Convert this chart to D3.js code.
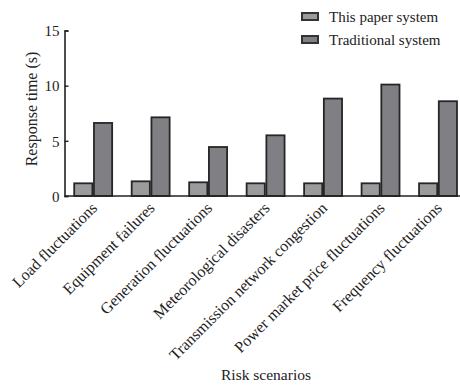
<!DOCTYPE html>
<html>
<head>
<meta charset="utf-8">
<script src="https://cdn.jsdelivr.net/npm/d3@7"></script>
<style>
  body { margin: 0; background: #fff; }
  svg { display: block; }
  text { font-family: "Liberation Serif", "Times New Roman", serif; fill: #222; }
</style>
</head>
<body>
<svg id="chart" width="460" height="388"></svg>
<script>
const categories = [
  "Load fluctuations",
  "Equipment failures",
  "Generation fluctuations",
  "Meteorological disasters",
  "Transmission network congestion",
  "Power market price fluctuations",
  "Frequency fluctuations"
];
const seriesNames = ["This paper system", "Traditional system"];
const thisPaper = [1.15, 1.33, 1.24, 1.15, 1.15, 1.15, 1.15];
const traditional = [6.62, 7.13, 4.44, 5.5, 8.83, 10.1, 8.59];
const yTicks = [0, 5, 10, 15];

const colors = ["#9b9b9e", "#808084"];
const svg = d3.select("#chart");

const margin = { left: 64.5, top: 30.5, bottom: 196 };
const y = d3.scaleLinear().domain([0, 15]).range([margin.bottom, margin.top]);
const x0 = d3.scaleBand().domain(categories).range([64.5, 466.7])
  .paddingInner(0.34).paddingOuter(0.169);
const x1 = d3.scaleBand().domain(seriesNames).range([0, x0.bandwidth()]).paddingInner(0.08);

const data = categories.map((c, i) => ({ cat: c, vals: [thisPaper[i], traditional[i]] }));

// bars
const g = svg.append("g");
g.selectAll("g.grp").data(data).join("g")
  .attr("class", "grp")
  .attr("transform", d => `translate(${x0(d.cat)},0)`)
  .selectAll("rect").data(d => d.vals.map((v, j) => ({ s: seriesNames[j], v, j })))
  .join("rect")
  .attr("x", d => x1(d.s))
  .attr("width", x1.bandwidth())
  .attr("y", d => y(d.v))
  .attr("height", d => y(0) - y(d.v))
  .attr("fill", d => colors[d.j])
  .attr("stroke", "#262626")
  .attr("stroke-width", 1.8);

// y axis
const yAxis = d3.axisRight(y).tickValues(yTicks).tickSize(4).tickFormat(d3.format("d"));
const ya = svg.append("g").attr("transform", `translate(${margin.left},0)`).call(yAxis);
ya.select(".domain").attr("stroke", "#222").attr("stroke-width", 1.6);
ya.selectAll(".tick line").attr("stroke", "#222").attr("stroke-width", 1.4);
ya.selectAll(".tick text").attr("x", -5).attr("text-anchor", "end")
  .style("font-size", "15px").attr("dy", "0.35em").attr("fill", "#222");

// x axis line
svg.append("line").attr("x1", margin.left).attr("x2", 466)
  .attr("y1", y(0)).attr("y2", y(0)).attr("stroke", "#222").attr("stroke-width", 1.6);

// x labels
svg.append("g").selectAll("text").data(categories).join("text")
  .attr("transform", d => `translate(${x0(d) + x0.bandwidth() / 2 + 5},${y(0) + 13}) rotate(-45)`)
  .attr("text-anchor", "end")
  .style("font-size", "16px")
  .text(d => d);

// axis titles
svg.append("text")
  .attr("transform", `translate(37,109) rotate(-90)`)
  .attr("text-anchor", "middle")
  .style("font-size", "16px")
  .text("Response time (s)");
svg.append("text")
  .attr("x", 266).attr("y", 380)
  .attr("text-anchor", "middle")
  .style("font-size", "15.5px")
  .text("Risk scenarios");

// legend
const lg = svg.append("g").selectAll("g").data(seriesNames).join("g")
  .attr("transform", (d, i) => `translate(302,${13 + i * 23})`);
lg.append("rect").attr("width", 16).attr("height", 7)
  .attr("fill", (d, i) => colors[i]).attr("stroke", "#333").attr("stroke-width", 2);
lg.append("text").attr("x", 27).attr("y", 3.5).attr("dy", "0.35em")
  .style("font-size", "15px").text(d => d);
</script>
</body>
</html>
